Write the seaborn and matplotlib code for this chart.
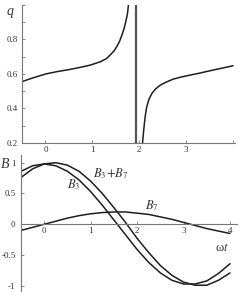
import numpy as np
import pandas as pd
import matplotlib
matplotlib.use("Agg")
import matplotlib.pyplot as plt
import seaborn as sns

# ---- data ----
# top panel: q(omega t), two branches around the pole
q_left_x = [-0.51, -0.32, 0.0, 0.25, 0.53, 0.75, 0.96, 1.17, 1.30, 1.38, 1.46, 1.52, 1.58, 1.63, 1.68, 1.72, 1.75, 1.77]
q_left_y = [0.554, 0.572, 0.599, 0.613, 0.626, 0.638, 0.651, 0.670, 0.688, 0.709, 0.732, 0.757, 0.788, 0.824, 0.865, 0.911, 0.950, 1.0]
q_right_x = [2.07, 2.09, 2.11, 2.13, 2.16, 2.21, 2.27, 2.35, 2.45, 2.58, 2.73, 2.90, 3.09, 3.30, 3.51, 3.75, 4.0]
q_right_y = [0.20, 0.26, 0.314, 0.36, 0.41, 0.455, 0.487, 0.513, 0.535, 0.553, 0.570, 0.582, 0.593, 0.605, 0.618, 0.632, 0.647]
pole_x = 1.94

# bottom panel: B3, B7 versus omega t
wt = [-0.5, -0.25, 0.0, 0.25, 0.5, 0.75, 1.0, 1.25, 1.5, 1.75, 2.0, 2.25, 2.5, 2.75, 3.0, 3.25, 3.5, 3.75, 4.0]
B3 = [0.86, 0.95, 0.98, 0.95, 0.86, 0.72, 0.53, 0.31, 0.07, -0.17, -0.41, -0.62, -0.79, -0.91, -0.97, -0.97, -0.92, -0.80, -0.64]
B7 = [-0.10, -0.05, 0.0, 0.05, 0.10, 0.14, 0.17, 0.19, 0.20, 0.20, 0.18, 0.16, 0.12, 0.08, 0.03, -0.02, -0.07, -0.11, -0.15]
B37 = [a + b for a, b in zip(B3, B7)]

top_xticks = [0, 1, 2, 3]
top_yticks = [0.2, 0.4, 0.6, 0.8]
bot_xticks = [0, 1, 2, 3, 4]
bot_yticks = [-1, -0.5, 0, 0.5, 1]
bot_ylabels = ["-1", "-0.5", "0", "0.5", "1"]

# ---- style ----
sns.set_style("ticks")
plt.rcParams["font.family"] = ["Liberation Serif", "DejaVu Serif"]
plt.rcParams["mathtext.fontset"] = "stix"

W, H = 240, 292
fig = plt.figure(figsize=(W / 100, H / 100), dpi=100)
fig.patch.set_facecolor("white")

curve_col = "#1e1e1e"
axis_col = "#777777"
lab_col = "#333333"

# top axes
ax1 = fig.add_axes([22 / W, 1 - 143 / H, (235.4 - 22) / W, (143 - 4.7) / H])
sns.lineplot(x=q_left_x, y=q_left_y, ax=ax1, color=curve_col, lw=1.1, sort=False)
sns.lineplot(x=q_right_x, y=q_right_y, ax=ax1, color=curve_col, lw=1.1, sort=False)
ax1.axvline(pole_x, color="#555555", lw=1.6)
ax1.set_xlim(-0.5, 4.05)
ax1.set_ylim(0.2, 1.0)
ax1.set_xticks(top_xticks + [4])
ax1.set_xticklabels([str(t) for t in top_xticks] + [""])
ax1.set_yticks(top_yticks)
ax1.set_yticklabels([f"{t:.1f}" for t in top_yticks])
ax1.set_yticks([0.3, 0.5, 0.7, 0.9, 1.0], minor=True)
for s in ["top", "right"]:
    ax1.spines[s].set_visible(False)
for s in ["left", "bottom"]:
    ax1.spines[s].set_color(axis_col)
    ax1.spines[s].set_linewidth(0.8)
ax1.tick_params(axis="both", which="both", direction="in", length=2.5, width=0.6,
                colors=axis_col, labelcolor=lab_col, labelsize=6.5, pad=2)
ax1.tick_params(axis="y", pad=3)
ax1.set_xlabel("")
ax1.set_ylabel("")
fig.text(10 / W, 1 - 11 / H, "q", fontsize=10, style="italic", color=lab_col,
         ha="center", va="center")

# bottom axes
ax2 = fig.add_axes([21 / W, 0, (237 - 21) / W, (292 - 155) / H])
sns.lineplot(x=wt, y=B3, ax=ax2, color=curve_col, lw=1.1, sort=False)
sns.lineplot(x=wt, y=B37, ax=ax2, color=curve_col, lw=1.1, sort=False)
sns.lineplot(x=wt, y=B7, ax=ax2, color=curve_col, lw=1.1, sort=False)
ax2.set_xlim(-0.5, 4.15)
ax2.set_ylim(-1.1, 1.125)
ax2.spines["bottom"].set_position(("data", 0))
for s in ["top", "right"]:
    ax2.spines[s].set_visible(False)
for s in ["left", "bottom"]:
    ax2.spines[s].set_color(axis_col)
    ax2.spines[s].set_linewidth(0.8)
ax2.set_xticks(bot_xticks)
ax2.set_xticklabels([str(t) for t in bot_xticks])
ax2.set_yticks(bot_yticks)
ax2.set_yticklabels(bot_ylabels)
ax2.tick_params(axis="both", which="both", direction="in", length=2.5, width=0.6,
                colors=axis_col, labelcolor=lab_col, labelsize=6.5, pad=2)
ax2.tick_params(axis="y", pad=4)
ax2.set_xlabel("")
ax2.set_ylabel("")

ax2.text(1.05, 0.82, "$B_3\\!+\\!B_7$", fontsize=9, color=lab_col, ha="left", va="center")
ax2.text(0.48, 0.64, "$B_3$", fontsize=9, color=lab_col, ha="left", va="center")
ax2.text(2.17, 0.30, "$B_7$", fontsize=9, color=lab_col, ha="left", va="center")
ax2.text(3.67, -0.385, "ω$\\it{t}$", fontsize=9, color=lab_col, ha="left", va="center")
fig.text(5.5 / W, 1 - 165 / H, "B", fontsize=10, style="italic", color=lab_col,
         ha="center", va="center")

fig.savefig("out.png", dpi=100, facecolor="white")
